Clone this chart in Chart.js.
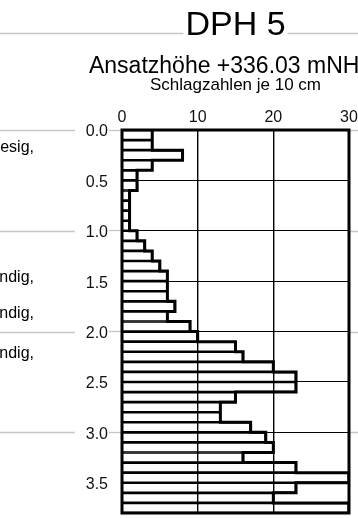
<!DOCTYPE html>
<html>
<head>
<meta charset="utf-8">
<script src="https://cdn.jsdelivr.net/npm/chart.js@4/dist/chart.umd.min.js"></script>
<style>
  html, body { margin: 0; padding: 0; background: #fff; overflow: hidden; }
  canvas { display: block; }
</style>
</head>
<body>
<canvas id="dph" width="358" height="518"></canvas>
<script>
// Probe DPH 5: blow counts per 10 cm of penetration, depth in metres
const probeName = 'DPH 5';
const startLevel = 'Ansatzhöhe +336.03 mNHN';
const countLabel = 'Schlagzahlen je 10 cm';

// top of each 10 cm interval (m)
const depthTop = [
  0.0, 0.1, 0.2, 0.3, 0.4, 0.5, 0.6, 0.7, 0.8, 0.9,
  1.0, 1.1, 1.2, 1.3, 1.4, 1.5, 1.6, 1.7, 1.8, 1.9,
  2.0, 2.1, 2.2, 2.3, 2.4, 2.5, 2.6, 2.7, 2.8, 2.9,
  3.0, 3.1, 3.2, 3.3, 3.4, 3.5, 3.6, 3.7
];
const intervalLength = 0.1;
const endDepth = 3.8;

// blows N10 per interval
const blows = [
  4, 4, 8, 4, 2, 2, 1, 1, 1, 1,
  2, 3, 4, 5, 6, 6, 6, 7, 6, 9,
  10, 15, 16, 20, 23, 23, 15, 13, 13, 17,
  19, 20, 16, 23, 30, 23, 20, 30
];

const countTicks = [0, 10, 20, 30];
const depthTicks = [0.0, 0.5, 1.0, 1.5, 2.0, 2.5, 3.0, 3.5];
const layerBoundaries = [0.0, 1.0, 2.0, 3.0];

// soil description fragments in the neighbouring column (text runs off the left edge)
const soilNotes = [
  { text: 'Schluff, kiesig,', depth: 0.22 },
  { text: 'Kies, sandig,', depth: 1.51 },
  { text: 'Kies, sandig,', depth: 1.87 },
  { text: 'Kies, sandig,', depth: 2.26 }
];

const FONT = '"Liberation Sans", Arial, Helvetica, sans-serif';
const GREY = '#c6c6c6';
Chart.defaults.font.family = FONT;
Chart.defaults.color = '#000';

const barPoints = blows.map((v, i) => ({ x: v, y: depthTop[i] + intervalLength / 2 }));
const outlinePoints = [];
blows.forEach((v, i) => {
  outlinePoints.push({ x: v, y: depthTop[i] });
  outlinePoints.push({ x: v, y: depthTop[i] + intervalLength });
});

const decorations = {
  id: 'decorations',
  beforeDraw(chart) {
    const { ctx, chartArea: a, scales: { y } } = chart;
    ctx.save();
    ctx.fillStyle = '#fff';
    ctx.fillRect(0, 0, chart.width, chart.height);
    ctx.strokeStyle = GREY;
    ctx.lineWidth = 1.3;
    // rule either side of the probe name
    ctx.font = '34px ' + FONT;
    const cx = (a.left + a.right) / 2;
    const half = ctx.measureText(probeName).width / 2;
    ctx.beginPath();
    ctx.moveTo(0, 33.5); ctx.lineTo(cx - half - 2, 33.5);
    ctx.moveTo(cx + half + 2, 33.5); ctx.lineTo(chart.width, 33.5);
    ctx.stroke();
    // layer boundary lines outside the plot
    ctx.beginPath();
    layerBoundaries.forEach(d => {
      const py = Math.round(y.getPixelForValue(d)) + 0.5;
      ctx.moveTo(0, py); ctx.lineTo(75, py);
      ctx.moveTo(a.right, py); ctx.lineTo(chart.width, py);
    });
    ctx.stroke();
    ctx.restore();
  },
  afterDatasetsDraw(chart) {
    const { ctx, chartArea: a } = chart;
    ctx.save();
    ctx.strokeStyle = '#000';
    ctx.lineWidth = 3;
    ctx.strokeRect(a.left, a.top, a.right - a.left, a.bottom - a.top);
    ctx.restore();
  },
  afterDraw(chart) {
    const { ctx, chartArea: a, scales: { y } } = chart;
    const cx = (a.left + a.right) / 2;
    ctx.save();
    ctx.fillStyle = '#000';
    ctx.textAlign = 'center';
    ctx.textBaseline = 'alphabetic';
    ctx.font = '34px ' + FONT;
    ctx.fillText(probeName, cx, 35);
    ctx.font = '23px ' + FONT;
    ctx.fillText(startLevel, cx - 3, 73);
    ctx.font = '17px ' + FONT;
    ctx.fillText(countLabel, cx, 89.5);
    ctx.textAlign = 'right';
    ctx.font = '16px ' + FONT;
    soilNotes.forEach(n => ctx.fillText(n.text, 34, y.getPixelForValue(n.depth)));
    ctx.restore();
  }
};

new Chart(document.getElementById('dph'), {
  type: 'bar',
  data: {
    datasets: [
      {
        type: 'line',
        data: outlinePoints,
        borderColor: '#000',
        borderWidth: 3,
        borderJoinStyle: 'miter',
        pointRadius: 0,
        fill: false,
        tension: 0,
        order: 0
      },
      {
        type: 'bar',
        data: barPoints,
        backgroundColor: 'rgba(0,0,0,0)',
        borderColor: '#000',
        borderWidth: { top: 1, bottom: 1, left: 0, right: 1 },
        borderSkipped: false,
        barPercentage: 1,
        categoryPercentage: 1,
        order: 1
      }
    ]
  },
  options: {
    indexAxis: 'y',
    responsive: false,
    devicePixelRatio: 1,
    animation: false,
    events: [],
    layout: { padding: { left: 0, top: 0, right: 9, bottom: 5 } },
    plugins: { legend: { display: false }, tooltip: { enabled: false }, title: { display: false } },
    scales: {
      x: {
        type: 'linear',
        position: 'top',
        min: countTicks[0],
        max: countTicks[countTicks.length - 1],
        offset: false,
        afterBuildTicks: s => { s.ticks = countTicks.map(v => ({ value: v })); },
        afterFit: s => { s.height = 130; s.paddingLeft = 0; s.paddingRight = 0; },
        ticks: { font: { size: 16 }, padding: 3, color: '#111', maxRotation: 0 },
        grid: { color: '#000', lineWidth: 1.4, drawTicks: false, offset: false },
        border: { display: false }
      },
      y: {
        type: 'linear',
        reverse: true,
        min: 0,
        max: endDepth,
        offset: false,
        afterBuildTicks: s => { s.ticks = depthTicks.map(v => ({ value: v })); },
        afterFit: s => { s.width = 122; s.paddingTop = 0; s.paddingBottom = 0; },
        ticks: {
          font: { size: 16 },
          padding: 1,
          labelOffset: 2,
          color: '#111',
          callback: v => Number(v).toFixed(1)
        },
        grid: {
          color: '#000',
          lineWidth: 1,
          offset: false,
          tickLength: 13,
          tickWidth: 1.3,
          tickColor: ctx => (ctx.tick && Number.isInteger(ctx.tick.value)) ? GREY : 'rgba(0,0,0,0)'
        },
        border: { display: false }
      }
    }
  },
  plugins: [decorations]
});
</script>
</body>
</html>
